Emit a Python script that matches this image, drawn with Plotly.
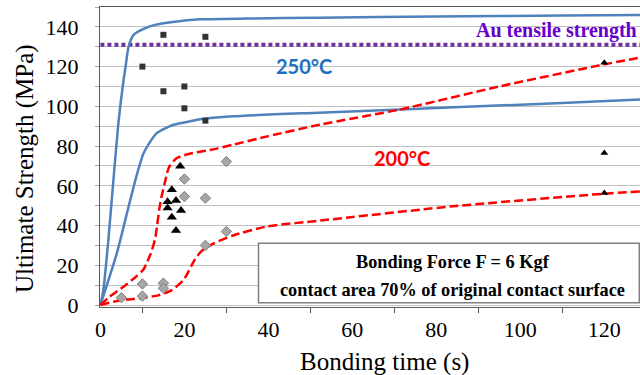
import plotly.graph_objects as go

# ---- data ----
# 250°C model curves (blue)
blue_hi_t = [0, 0.7, 1.9, 3.1, 4.3, 5.5, 6.0, 6.7, 7.9, 10.3, 13, 17.3, 23.7, 35, 52, 80, 110, 128.5]
blue_hi_y = [0, 7.5, 33, 63, 92, 113, 120, 130, 136, 139, 141, 142.5, 143.8, 144.2, 144.6, 145.2, 145.7, 146]
blue_lo_t = [0, 3.9, 7, 8.6, 10.2, 11.8, 13.4, 15.8, 17.4, 21.4, 23.7, 31.6, 52, 70, 90, 110, 128.5]
blue_lo_y = [0, 26, 52, 65, 76, 82, 86.5, 89.3, 90.7, 92.5, 93.5, 95, 96.8, 98.3, 100, 101.7, 103.4]
# 200°C model curves (red dashed)
red_hi_t = [0, 2.2, 5.5, 8.5, 10.2, 11, 12, 13, 13.5, 14, 14.6, 15.4, 15.8, 16.5, 18.2, 22, 26, 31.6, 40, 52.3, 71.3, 95, 119.7, 128.5]
red_hi_y = [0, 4.2, 9.2, 14.3, 17.7, 21, 26, 33, 40, 48, 55, 62, 66, 70, 74, 76.5, 78, 80.7, 85, 90.8, 98.4, 110, 121, 124.5]
red_lo_t = [0, 5, 10, 14, 17, 19.8, 22.5, 24, 27, 31.6, 39.5, 52.3, 84, 119.7, 128.5]
red_lo_y = [0, 2.5, 3.5, 5, 7.5, 12.6, 23, 27, 31, 35, 39.5, 42.5, 49.7, 56, 57.2]
# measured data
sq_t = [10, 15, 15, 20, 20, 25, 25]
sq_y = [120, 136, 107.6, 110, 99, 135, 92.8]
tri_t = [19, 17, 16, 18, 16, 19.2, 17, 18]
tri_y = [69.8, 58, 52, 52.6, 48.8, 47.6, 44.2, 37.5]
tri2_t = [120, 120, 120]
tri2_y = [122, 76.5, 56.4]
dia_t = [5, 10, 10, 15, 15, 20, 20, 25, 25, 30, 30]
dia_y = [3.7, 10.6, 4.5, 11, 8.4, 63.4, 54.6, 53.8, 30, 72.2, 37]
au_t = [0, 128.5]
au_y = [131, 131]

x_ticks = [0, 20, 40, 60, 80, 100, 120]
y_ticks = [0, 20, 40, 60, 80, 100, 120, 140]

BLUE = "#4F81BD"
RED = "#FF0000"
SERIF = "Liberation Serif"

fig = go.Figure()
fig.add_trace(go.Scatter(x=au_t, y=au_y, mode="lines",
                         line=dict(color="#7030A0", width=4, dash="4px,3px")))
for t, y in [(blue_hi_t, blue_hi_y), (blue_lo_t, blue_lo_y)]:
    fig.add_trace(go.Scatter(x=t, y=y, mode="lines",
                             line=dict(color=BLUE, width=2.5, shape="spline", smoothing=0.6)))
for t, y in [(red_hi_t, red_hi_y), (red_lo_t, red_lo_y)]:
    fig.add_trace(go.Scatter(x=t, y=y, mode="lines",
                             line=dict(color=RED, width=2.5, dash="9px,4px", shape="spline", smoothing=0.6)))
fig.add_trace(go.Scatter(x=sq_t, y=sq_y, mode="markers",
                         marker=dict(symbol="square", size=6, color="#333333")))
fig.add_trace(go.Scatter(x=dia_t, y=dia_y, mode="markers",
                         marker=dict(symbol="diamond", size=8, color="#A6A6A6",
                                     line=dict(color="#7F7F7F", width=1))))
fig.add_trace(go.Scatter(x=tri_t, y=tri_y, mode="markers",
                         marker=dict(symbol="triangle-up", size=9, color="black")))
fig.add_trace(go.Scatter(x=tri2_t, y=tri2_y, mode="markers",
                         marker=dict(symbol="triangle-up", size=7, color="black")))

L, R, T, B = 100, 640, 7, 307
W = R - L
H = B - T
def px(x):
    return (x - L) / W
def py(y):
    return (B - y) / H

fig.add_shape(type="rect", xref="paper", yref="paper",
              x0=px(258.5), x1=px(639.3), y0=py(302.7), y1=py(243.3),
              line=dict(color="#808080", width=1.5), fillcolor="white", layer="above")

ann = [
    dict(text="<b>Au tensile strength</b>", x=px(556.7), y=py(30.7),
         font=dict(family=SERIF, size=20, color="#6600CC")),
    dict(text="<b>250°C</b>", x=px(303.5), y=py(66),
         font=dict(family="Lato", size=20, color="#1F6FC0")),
    dict(text="<b>200°C</b>", x=px(401.5), y=py(158),
         font=dict(family="Lato", size=20, color=RED)),
    dict(text="<b>Bonding Force F = 6 Kgf</b>", x=px(453), y=py(261.7),
         font=dict(family=SERIF, size=18.3, color="black")),
    dict(text="<b>contact area 70% of original contact surface</b>", x=px(452.5), y=py(290),
         font=dict(family=SERIF, size=18.3, color="black")),
    dict(text="Ultimate Strength (MPa)", x=px(25), y=py(169), textangle=-90,
         font=dict(family=SERIF, size=25, color="black")),
    dict(text="Bonding time (s)", x=px(384), y=py(361.7),
         font=dict(family=SERIF, size=25, color="black")),
]
for a in ann:
    fig.add_annotation(xref="paper", yref="paper", showarrow=False,
                       xanchor="center", yanchor="middle", **a)

fig.update_layout(
    width=640, height=375,
    margin=dict(l=L, r=640 - R, t=T, b=375 - B),
    paper_bgcolor="white", plot_bgcolor="white",
    showlegend=False,
)
fig.update_xaxes(range=[-0.1, 128.5], tickvals=x_ticks, ticks="",
                 showgrid=False, zeroline=False,
                 showline=True, linecolor="#595959", linewidth=1.3, mirror=True,
                 tickfont=dict(family=SERIF, size=22, color="black"),
                 ticklabelstandoff=2,
                 minor=dict(tick0=10, dtick=20, ticks="outside", ticklen=5,
                            tickcolor="#595959", showgrid=False))
fig.update_yaxes(range=[-1, 150], tickvals=y_ticks, ticks="outside", ticklen=4,
                 tickcolor="#A6A6A6",
                 showgrid=True, gridcolor="#C0C0C0", gridwidth=1, zeroline=False,
                 showline=True, linecolor="#595959", linewidth=1.3,
                 tickfont=dict(family=SERIF, size=22, color="black"),
                 ticklabelstandoff=12,
                 minor=dict(dtick=10, showgrid=True, gridcolor="#C0C0C0", gridwidth=1,
                            ticks="outside", ticklen=4, tickcolor="#A6A6A6"))

fig.write_html("out.html")
